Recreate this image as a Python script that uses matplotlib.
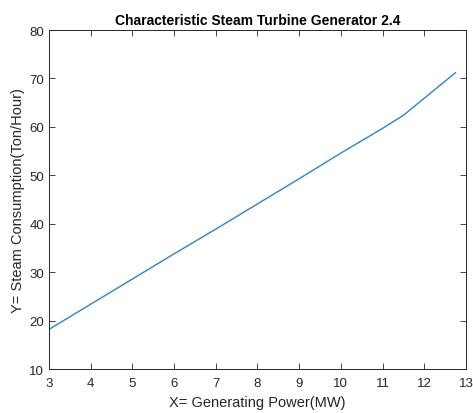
import matplotlib
matplotlib.use('Agg')
import matplotlib.pyplot as plt

# Generating power (MW) and steam consumption (Ton/Hour)
power = [3, 4, 5, 6, 7, 8, 9, 10, 11, 11.5, 12.75]
steam = [18.2, 23.4, 28.6, 33.8, 38.9, 44.1, 49.3, 54.6, 59.7, 62.4, 71.2]

plt.rcParams['font.family'] = ['Liberation Sans', 'DejaVu Sans']

fig = plt.figure(figsize=(4.73, 4.14), dpi=100)
ax = fig.add_axes([0.1036, 0.106, 0.8814, 0.819])
ax.plot(power, steam, color='#2787cc', linewidth=1.0)
ax.set_xlim(3, 13)
ax.set_ylim(10, 80)
ax.set_xticks(range(3, 14))
ax.set_yticks(range(10, 81, 10))
ax.tick_params(direction='in', top=True, right=True, length=4,
               labelsize=9.5, colors='#262626', width=0.6)
ax.tick_params(axis='x', pad=6)
for s in ax.spines.values():
    s.set_color('#262626')
    s.set_linewidth(0.7)
ax.set_title('Characteristic Steam Turbine Generator 2.4',
             fontsize=10, fontweight='bold', pad=4)
ax.set_xlabel('X= Generating Power(MW)', fontsize=10.5, color='#262626', labelpad=4)
ax.set_ylabel('Y= Steam Consumption(Ton/Hour)', fontsize=10.5, color='#262626', labelpad=3)
fig.savefig('out.png', dpi=100)
